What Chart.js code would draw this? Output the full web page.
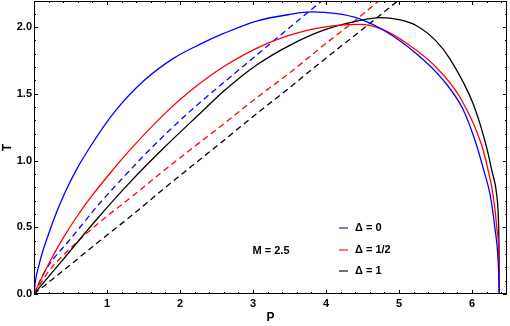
<!DOCTYPE html>
<html>
<head>
<meta charset="utf-8">
<script src="https://cdn.jsdelivr.net/npm/chart.js@4/dist/chart.umd.min.js"></script>
<style>
html, body { margin: 0; padding: 0; background: #fff; }
</style>
</head>
<body>
<canvas id="myChart" width="510" height="326"></canvas>
<script>
// Delta = 0 (solid) and its dashed companion
var p0 = [0, 0.02, 0.06, 0.12, 0.20, 0.30, 0.42, 0.58, 0.79, 1.09, 1.50, 1.91, 2.27, 2.59, 3.05, 3.51, 3.80, 4.15, 4.47, 4.78, 5.24, 5.61, 5.88, 6.06, 6.16, 6.25, 6.315, 6.36, 6.375];
var t0 = [0, 0.10, 0.20, 0.32, 0.45, 0.60, 0.755, 0.93, 1.12, 1.355, 1.595, 1.765, 1.87, 1.95, 2.045, 2.095, 2.113, 2.10, 2.06, 1.98, 1.80, 1.60, 1.38, 1.12, 0.93, 0.74, 0.49, 0.24, 0];
var p0d = [0, 0.10, 0.22, 0.45, 0.63, 0.90, 1.20, 1.60, 2.14, 2.59, 3.05, 3.51, 3.93];
var t0d = [0, 0.12, 0.23, 0.38, 0.50, 0.68, 0.86, 1.09, 1.37, 1.58, 1.79, 2.00, 2.19];

// Delta = 1/2
var p1 = [0, 0.20, 0.40, 0.60, 0.80, 1.05, 1.30, 1.77, 2.14, 2.59, 3.19, 3.74, 4.19, 4.47, 4.78, 5.10, 5.47, 5.84, 6.13, 6.22, 6.29, 6.345, 6.37, 6.375];
var t1 = [0, 0.225, 0.42, 0.59, 0.74, 0.91, 1.07, 1.34, 1.52, 1.70, 1.875, 1.975, 2.015, 2.02, 1.98, 1.88, 1.72, 1.47, 1.12, 0.93, 0.74, 0.47, 0.24, 0];
var p1d = [0, 0.20, 0.40, 0.86, 1.32, 1.77, 2.14, 2.59, 3.05, 3.51, 3.96, 4.47, 4.72];
var t1d = [0, 0.17, 0.29, 0.52, 0.72, 0.92, 1.08, 1.27, 1.47, 1.66, 1.86, 2.08, 2.195];

// Delta = 1
var p2 = [0, 0.40, 0.86, 1.32, 1.77, 2.27, 2.59, 3.05, 3.51, 3.96, 4.47, 4.74, 5.00, 5.24, 5.50, 5.70, 6.02, 6.20, 6.27, 6.34, 6.362, 6.37, 6.375];
var t2 = [0, 0.26, 0.56, 0.84, 1.09, 1.35, 1.515, 1.715, 1.865, 1.975, 2.05, 2.07, 2.055, 2.01, 1.90, 1.76, 1.42, 1.10, 0.93, 0.74, 0.57, 0.37, 0];
var p2d = [0, 0.40, 0.86, 1.32, 1.77, 2.27, 3.05, 3.51, 3.96, 4.47, 4.97];
var t2d = [0, 0.175, 0.38, 0.58, 0.785, 1.005, 1.35, 1.55, 1.75, 1.97, 2.19];

var xTicks = [1, 2, 3, 4, 5, 6];
var yTicks = [0, 0.5, 1.0, 1.5, 2.0];
var legendLabels = ['\u0394 = 0', '\u0394 = 1/2', '\u0394 = 1'];
var note = 'M = 2.5';

function pts(p, t) {
  return p.map(function (v, i) { return { x: v, y: t[i] }; });
}

function line(p, t, color, dashed) {
  return {
    data: pts(p, t),
    borderColor: color,
    borderWidth: 1.3,
    borderDash: dashed ? [6, 4] : [],
    pointRadius: 0,
    showLine: true,
    cubicInterpolationMode: 'monotone',
    fill: false
  };
}

var labelFont = { family: 'Liberation Sans', size: 11, weight: 'bold' };

// frame with inward ticks, legend and note
var framePlugin = {
  id: 'frame',
  afterDraw: function (chart) {
    var c = chart.ctx, a = chart.chartArea;
    var xs = chart.scales.x, ys = chart.scales.y;
    c.save();
    c.strokeStyle = '#000';
    c.lineWidth = 1;
    c.strokeRect(a.left + 0.5, a.top + 0.5, a.right - a.left - 1, a.bottom - a.top - 1);
    c.beginPath();
    for (var i = 0; i <= 32; i++) {
      var v = i * 0.2;
      var x = Math.round(xs.getPixelForValue(v)) + 0.5;
      var len = (i % 5 === 0) ? 4 : 2;
      c.moveTo(x, a.bottom); c.lineTo(x, a.bottom - len);
      c.moveTo(x, a.top); c.lineTo(x, a.top + len);
    }
    for (var j = 0; j <= 21; j++) {
      var w = j * 0.1;
      var y = Math.round(ys.getPixelForValue(w)) + 0.5;
      var len2 = (j % 5 === 0) ? 4 : 2;
      c.moveTo(a.left, y); c.lineTo(a.left + len2, y);
      c.moveTo(a.right, y); c.lineTo(a.right - len2, y);
    }
    c.stroke();

    // legend
    var colors = ['rgba(0,0,255,0.55)', 'rgba(255,0,0,0.55)', 'rgba(0,0,0,0.55)'];
    var ly = [228, 250, 271];
    c.font = 'bold 11px "Liberation Sans"';
    c.textBaseline = 'middle';
    c.textAlign = 'left';
    for (var k = 0; k < 3; k++) {
      c.strokeStyle = colors[k];
      c.lineWidth = 2;
      c.beginPath();
      c.moveTo(339, ly[k]); c.lineTo(348, ly[k]);
      c.stroke();
      c.fillStyle = '#000';
      c.fillText(legendLabels[k], 355, ly[k]);
    }
    c.textAlign = 'center';
    c.fillText(note, 271, 251);
    c.restore();
  }
};

var ctx = document.getElementById('myChart').getContext('2d');
var chart = new Chart(ctx, {
  type: 'scatter',
  data: {
    datasets: [
      line(p0, t0, '#0000ff', false),
      line(p1, t1, '#ff0000', false),
      line(p2, t2, '#000000', false),
      line(p0d, t0d, '#0000ff', true),
      line(p1d, t1d, '#ff0000', true),
      line(p2d, t2d, '#000000', true)
    ]
  },
  options: {
    responsive: false,
    animation: false,
    layout: { padding: { top: 1, right: 3, left: 0, bottom: 0 } },
    plugins: { legend: { display: false }, tooltip: { enabled: false } },
    scales: {
      x: {
        type: 'linear',
        min: 0,
        max: 6.48,
        grid: { display: false, drawTicks: false },
        border: { display: false },
        afterBuildTicks: function (s) { s.ticks = xTicks.map(function (v) { return { value: v }; }); },
        afterFit: function (s) { s.height = 32; s.paddingLeft = 0; s.paddingRight = 0; },
        ticks: { color: '#000', font: labelFont, padding: 3, maxRotation: 0,
          callback: function (v) { return String(v); } },
        title: { display: true, text: 'P', color: '#000', font: { family: 'Liberation Sans', size: 12, weight: 'bold' }, padding: { top: 0, bottom: 1 } }
      },
      y: {
        type: 'linear',
        min: 0,
        max: 2.195,
        grid: { display: false, drawTicks: false },
        border: { display: false },
        afterBuildTicks: function (s) { s.ticks = yTicks.map(function (v) { return { value: v }; }); },
        afterFit: function (s) { s.width = 34; s.paddingTop = 0; s.paddingBottom = 0; },
        ticks: { color: '#000', font: labelFont, padding: 2,
          callback: function (v) { return Number(v).toFixed(1); } },
        title: { display: true, text: 'T', color: '#000', font: { family: 'Liberation Sans', size: 12, weight: 'bold' }, padding: { top: 0, bottom: 0 } }
      }
    }
  },
  plugins: [framePlugin]
});
</script>
</body>
</html>
